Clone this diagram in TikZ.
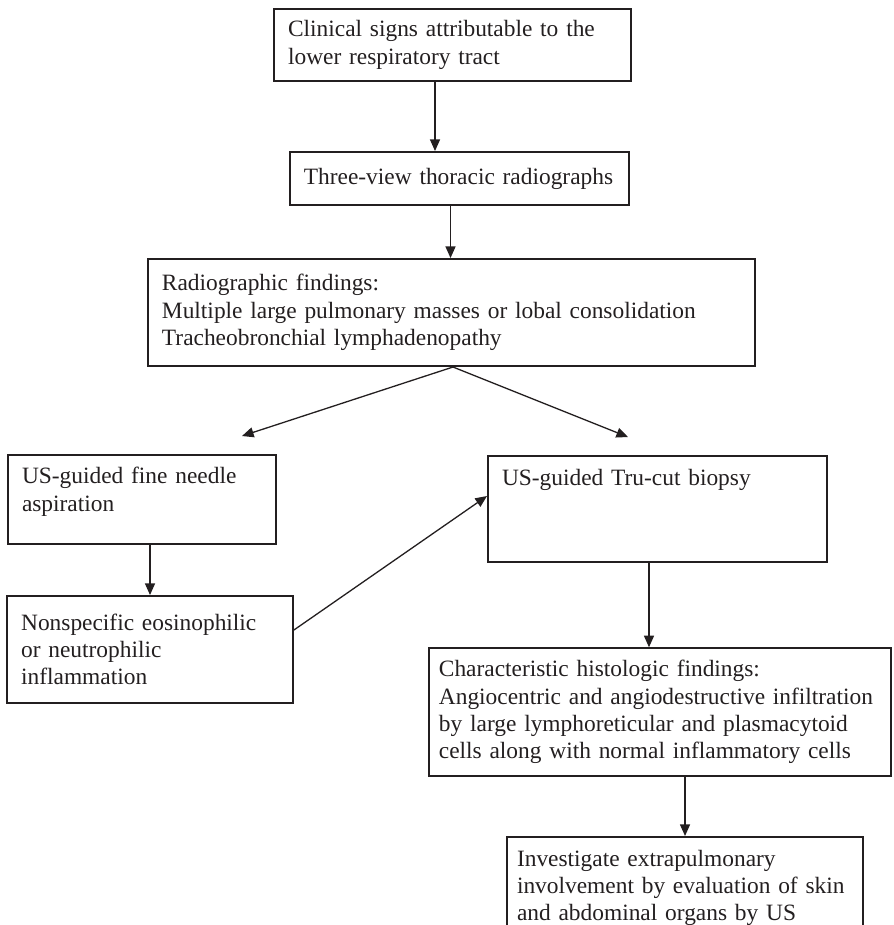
\documentclass[tikz,border=0pt]{standalone}
\usepackage{fontspec}
\setmainfont{Liberation Serif}
\usetikzlibrary{arrows.meta}
\definecolor{ink}{HTML}{231F20}
\hyphenpenalty=10000

\begin{document}
\begin{tikzpicture}[
  stepbox/.style={draw=ink, line width=1pt, text=ink, align=left,
                  font=\fontsize{11.7}{13.65}\selectfont,
                  inner xsep=7pt, inner ysep=6pt},
  topbox/.style={stepbox, anchor=north west, text height=8.5pt},
  arr/.style={-{Triangle[length=5.8pt,width=5pt]}, ink, line width=0.65pt}
]
  \useasboundingbox (0,0) rectangle (15.693,-16.255);

  \node[stepbox, text width=5.78cm, minimum height=1.265cm] (clinical) at (7.952,-0.791)
    {Clinical signs attributable to the\\lower respiratory tract};
  \node[stepbox, text width=5.47cm, minimum height=0.931cm] (views) at (8.075,-3.137)
    {Three-view thoracic radiographs};
  \node[stepbox, text width=10.175cm, minimum height=1.88cm] (findings) at (7.934,-5.492)
    {Radiographic findings:\\Multiple large pulmonary masses or lobal consolidation\\Tracheobronchial lymphadenopathy};

  \node[topbox, text width=4.22cm, text depth=24pt] (fna) at (0.123,-7.978)
    {US-guided fine needle\\aspiration};
  \node[topbox, text width=5.465cm, text depth=32.5pt] (trucut) at (8.558,-7.996)
    {US-guided Tru-cut biopsy};
  \node[stepbox, text width=4.53cm, minimum height=1.88cm] (nonspec) at (2.636,-11.414)
    {Nonspecific eosinophilic\\or neutrophilic\\inflammation};
  \node[stepbox, inner xsep=5pt, text width=7.77cm, minimum height=2.179cm] (histo) at (11.598,-12.512)
    {Characteristic histologic findings:\\Angiocentric and angiodestructive infiltration\\by large lymphoreticular and plasmacytoid\\cells along with normal inflammatory cells};
  \node[topbox, inner xsep=5pt, text width=5.905cm, text depth=49.5pt] (extra) at (8.892,-14.691)
    {Investigate extrapulmonary\\involvement by evaluation of skin\\and abdominal organs by US};

  \coordinate (a1) at ([xshift=-8.75pt]clinical.south);
  \coordinate (a2) at ([xshift=-4.5pt]views.south);
  \coordinate (split) at ([xshift=0.75pt]findings.south);
  \coordinate (fnatip) at (4.253,-7.662);
  \coordinate (trucuttip) at (11.036,-7.680);
  \coordinate (a3) at ([xshift=-4.25pt]trucut.south);

  \draw[arr] (a1) -- (a1 |- views.north);
  \draw[arr] (a2) -- (a2 |- findings.north);
  \draw[arr] (split) -- (fnatip);
  \draw[arr] (split) -- (trucuttip);
  \draw[arr] (fna.south -| nonspec.north) -- (nonspec.north);
  \draw[arr] ([yshift=9.75pt]nonspec.east) -- ([yshift=6.5pt]trucut.west);
  \draw[arr] (a3) -- (a3 |- histo.north);
  \draw[arr] (extra.north |- histo.south) -- (extra.north);

\end{tikzpicture}
\end{document}
